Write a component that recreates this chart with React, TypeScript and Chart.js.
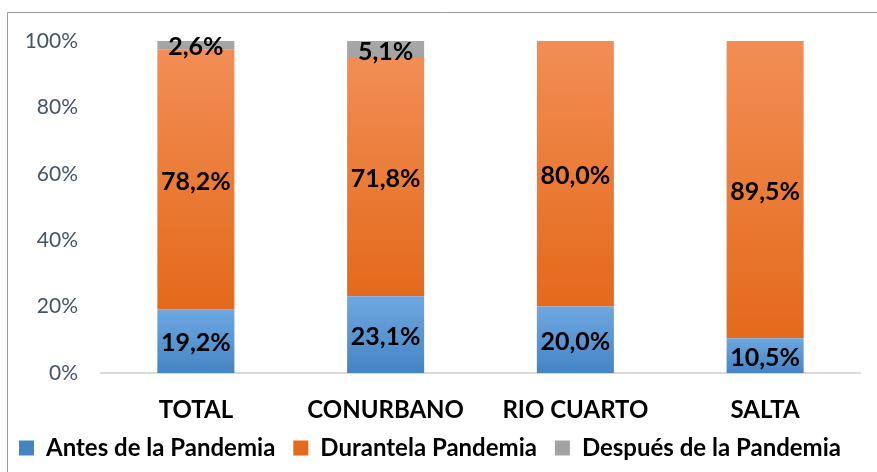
import React, { useEffect, useRef } from "react";
import { Chart, registerables } from "chart.js";

Chart.register(...registerables);

const categories = ["TOTAL", "CONURBANO", "RIO CUARTO", "SALTA"];
const antes = [19.2, 23.1, 20.0, 10.5];
const durante = [78.2, 71.8, 80.0, 89.5];
const despues = [2.6, 5.1, 0, 0];
const seriesNames = ["Antes de la Pandemia", "Durantela Pandemia", "Después de la Pandemia"];
const yTicks = [0, 20, 40, 60, 80, 100];

const FONT = "Lato, 'Noto Sans', sans-serif";

const gradStops: [string, string][] = [
  ["#6EA8E0", "#4584C4"],
  ["#F28E55", "#E4691B"],
  ["#A8A8A8", "#A3A3A3"],
];
const solid = ["#5B9BD5", "#EE7F38", "#A5A5A5"];

function makeBg(dsIndex: number) {
  return (ctx: any) => {
    const chart = ctx.chart;
    const y = chart.scales?.y;
    if (ctx.type !== "data" || !y || ctx.dataIndex === undefined) return solid[dsIndex];
    const dsets = chart.data.datasets;
    let start = 0;
    for (let i = 0; i < dsIndex; i++) start += Number(dsets[i].data[ctx.dataIndex]) || 0;
    const v = Number(dsets[dsIndex].data[ctx.dataIndex]) || 0;
    const top = y.getPixelForValue(start + v);
    const bottom = y.getPixelForValue(start);
    if (!isFinite(top) || !isFinite(bottom) || top === bottom) return solid[dsIndex];
    const g = chart.ctx.createLinearGradient(0, top, 0, bottom);
    g.addColorStop(0, gradStops[dsIndex][0]);
    g.addColorStop(1, gradStops[dsIndex][1]);
    return g;
  };
}

const labelPlugin = {
  id: "valueLabels",
  afterDatasetsDraw(chart: any) {
    const ctx = chart.ctx;
    ctx.save();
    ctx.font = `bold 25px ${FONT}`;
    ctx.fillStyle = "#000000";
    ctx.textAlign = "center";
    ctx.textBaseline = "middle";
    chart.data.datasets.forEach((ds: any, di: number) => {
      const meta = chart.getDatasetMeta(di);
      meta.data.forEach((el: any, i: number) => {
        const v = Number(ds.data[i]);
        if (!v) return;
        const cy = (el.y + el.base) / 2;
        ctx.fillText(v.toFixed(1).replace(".", ",") + "%", el.x, cy + 2);
      });
    });
    ctx.restore();
  },
};

const framePlugin = {
  id: "frame",
  beforeDraw(chart: any) {
    const ctx = chart.ctx;
    ctx.save();
    ctx.fillStyle = "#ffffff";
    ctx.fillRect(0, 0, chart.width, chart.height);
    ctx.strokeStyle = "#9A9A9A";
    ctx.lineWidth = 1;
    ctx.beginPath();
    ctx.moveTo(7.5, chart.height);
    ctx.lineTo(7.5, 12.5);
    ctx.lineTo(chart.width, 12.5);
    ctx.stroke();
    ctx.restore();
  },
};

export default function App() {
  const ref = useRef<HTMLCanvasElement | null>(null);
  useEffect(() => {
    if (!ref.current) return;
    const chart = new Chart(ref.current, {
      type: "bar",
      data: {
        labels: categories,
        datasets: [antes, durante, despues].map((d, i) => ({
          label: seriesNames[i],
          data: d,
          backgroundColor: makeBg(i),
          borderWidth: 0,
          categoryPercentage: 1,
          barPercentage: 0.406,
        })),
      },
      options: {
        responsive: false,
        animation: false,
        devicePixelRatio: 1,
        layout: { padding: { top: 41, right: 17, left: 0, bottom: 2 } },
        plugins: {
          tooltip: { enabled: false },
          legend: {
            position: "bottom",
            labels: {
              boxWidth: 15,
              boxHeight: 15,
              padding: 18,
              color: "#000000",
              font: { family: FONT, size: 24, weight: "bold" },
            },
          },
        },
        scales: {
          x: {
            stacked: true,
            grid: { display: false, drawTicks: false },
            border: { display: true, color: "#D9D9D9", width: 2 },
            ticks: {
              color: "#000000",
              padding: 23,
              font: { family: FONT, size: 24, weight: "bold" },
            },
            afterFit: (s: any) => {
              s.height = 45;
            },
          },
          y: {
            stacked: true,
            min: 0,
            max: 100,
            grid: { display: false, drawTicks: false },
            border: { display: false },
            afterBuildTicks: (s: any) => {
              s.ticks = yTicks.map((v) => ({ value: v }));
            },
            ticks: {
              color: "#44546A",
              padding: 23,
              font: { family: FONT, size: 21 },
              callback: (v: any) => v + "%",
            },
            afterFit: (s: any) => {
              s.width = 101;
            },
          },
        },
      },
      plugins: [framePlugin, labelPlugin],
    });
    return () => chart.destroy();
  }, []);
  return (
    <div style={{ position: "absolute", left: 0, top: 0, width: 877, height: 472 }}>
      <canvas ref={ref} width={877} height={472} style={{ width: 877, height: 472 }} />
    </div>
  );
}
